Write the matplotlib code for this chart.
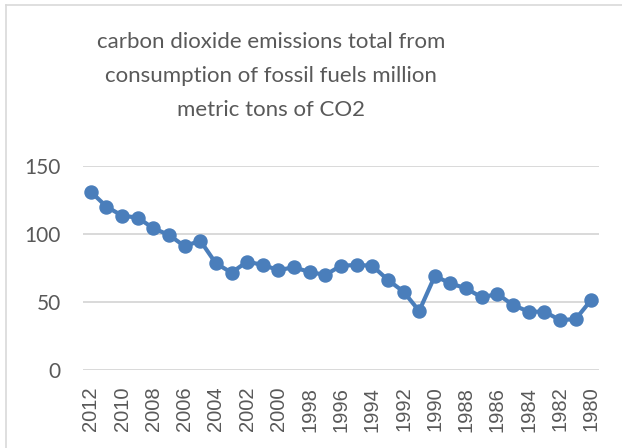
import matplotlib
matplotlib.use("Agg")
import matplotlib.pyplot as plt
from matplotlib.lines import Line2D

# ─── Data ────────────────────────────────────────────────────────────────────

years = list(range(2012, 1979, -1))
emissions = [
    131.1, 120.1, 113.5, 112.0, 104.2, 99.3, 91.0, 95.1, 78.4, 71.6,
    79.7, 77.2, 73.5, 75.5, 72.0, 69.9, 76.7, 77.2, 76.7, 66.2,
    57.6, 43.4, 69.1, 63.7, 60.0, 53.4, 55.9, 47.8, 42.9, 42.9,
    36.8, 37.3, 51.5,
]
y_ticks = [0, 50, 100, 150]
title = ("carbon dioxide emissions total from\n"
         "consumption of fossil fuels million\n"
         "metric tons of CO2")

# ─── Style ───────────────────────────────────────────────────────────────────

W, H = 622, 448
LINE_BLUE = "#4A7EBB"
TEXT_GREY = "#595959"
GRID_GREY = "#D9D9D9"

fig = plt.figure(figsize=(W / 100, H / 100), dpi=100)
fig.patch.set_facecolor("white")

# axes rectangle in pixel coords: x 83..599, y 166..370
ax = fig.add_axes([83 / W, 1 - 370 / H, (599 - 83) / W, (370 - 166) / H])

xs = list(range(len(years)))
ax.plot(xs, emissions, color=LINE_BLUE, linewidth=3.0,
        marker="o", markersize=9.4, solid_capstyle="round")

ax.set_xlim(-0.5, len(years) - 0.5)
ax.set_ylim(0, 150)
ax.set_yticks(y_ticks)
ax.set_yticklabels([str(v) for v in y_ticks], fontfamily="Lato",
                   fontsize=15, color=TEXT_GREY)
ax.set_xticks(xs[::2])
ax.set_xticklabels([str(y) for y in years[::2]], rotation=90,
                   fontfamily="Liberation Sans", fontsize=14.5,
                   color=TEXT_GREY)
ax.tick_params(axis="y", length=0, pad=16)
ax.tick_params(axis="x", length=0, pad=12)

ax.grid(True, axis="y", color=GRID_GREY, linewidth=1.4)
ax.set_axisbelow(True)
for spine in ax.spines.values():
    spine.set_visible(False)

fig.text(271 / W, 1 - 76 / H, title, ha="center", va="center",
         fontfamily="Lato", fontsize=16, color=TEXT_GREY,
         linespacing=1.85)

# chart border: only top and left edges are visible in the reference
fig.add_artist(Line2D([6 / W, 1], [1 - 5 / H, 1 - 5 / H],
                      transform=fig.transFigure, color=GRID_GREY, linewidth=1.2))
fig.add_artist(Line2D([6 / W, 6 / W], [0, 1 - 5 / H],
                      transform=fig.transFigure, color=GRID_GREY, linewidth=1.2))

fig.savefig("out.png", dpi=100)
